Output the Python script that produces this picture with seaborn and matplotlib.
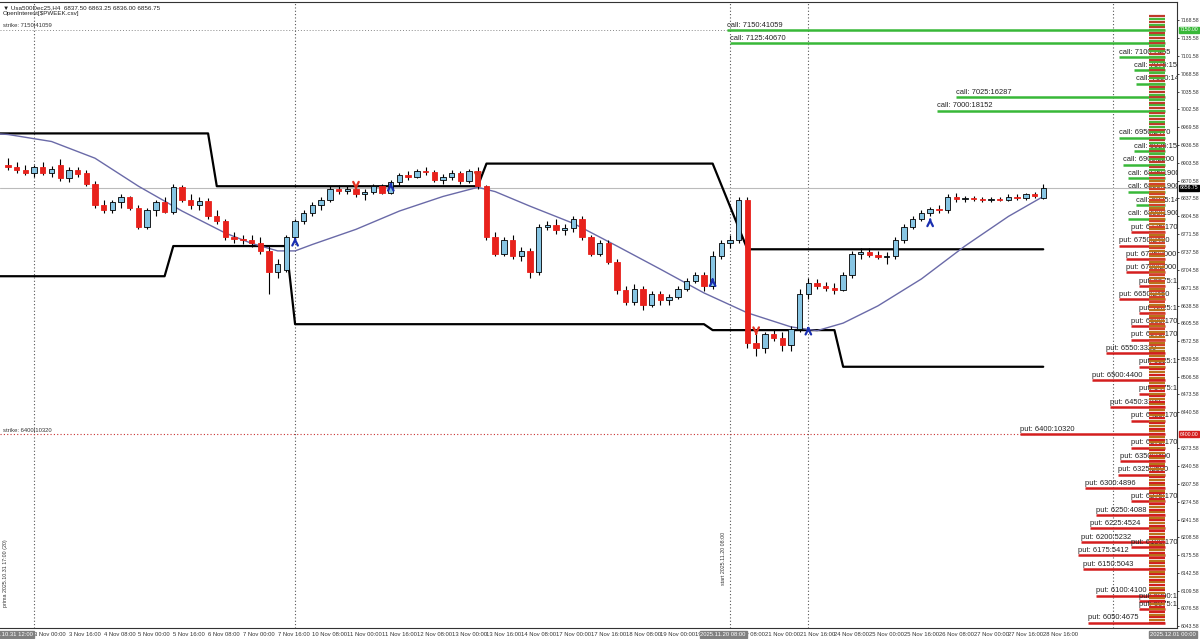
import numpy as np
import pandas as pd
import seaborn as sns
import matplotlib.pyplot as plt

# H4 candles, Usa500Dec25 (bar 0 = 31 Oct 12:00)
opens = [6900, 6895, 6890, 6885, 6895, 6884, 6900, 6875, 6890, 6885,
         6865, 6825, 6815, 6830, 6840, 6820, 6785, 6815, 6830, 6812,
         6858, 6835, 6825, 6832, 6805, 6795, 6765, 6762, 6760, 6755,
         6740, 6700, 6705, 6765, 6795, 6810, 6825, 6835, 6855, 6852,
         6855, 6845, 6850, 6860, 6848, 6868, 6880, 6878, 6888, 6886,
         6872, 6878, 6884, 6870, 6888, 6860, 6765, 6735, 6760, 6730,
         6740, 6700, 6785, 6788, 6778, 6782, 6800, 6765, 6735, 6755,
         6720, 6668, 6645, 6670, 6640, 6660, 6648, 6655, 6670, 6685,
         6695, 6675, 6730, 6755, 6760, 6835, 6570, 6560, 6585, 6578,
         6565, 6595, 6660, 6680, 6675, 6672, 6668, 6695, 6735, 6738,
         6732, 6728, 6730, 6760, 6785, 6800, 6810, 6818, 6815, 6840,
         6836, 6838, 6836, 6835, 6836, 6835, 6840, 6838, 6845, 6837.5]
highs = [6912, 6905, 6900, 6900, 6905, 6898, 6910, 6895, 6895, 6890,
         6870, 6835, 6835, 6845, 6842, 6825, 6820, 6835, 6840, 6865,
         6862, 6845, 6840, 6838, 6815, 6800, 6775, 6770, 6770, 6765,
         6750, 6725, 6770, 6800, 6815, 6830, 6840, 6860, 6862, 6860,
         6860, 6855, 6865, 6865, 6872, 6885, 6888, 6892, 6895, 6890,
         6882, 6890, 6888, 6892, 6895, 6862, 6775, 6765, 6770, 6748,
         6745, 6790, 6795, 6800, 6790, 6805, 6805, 6770, 6760, 6760,
         6725, 6675, 6678, 6675, 6665, 6665, 6660, 6675, 6690, 6700,
         6700, 6740, 6760, 6770, 6840, 6840, 6585, 6590, 6595, 6590,
         6600, 6670, 6690, 6688, 6682, 6680, 6700, 6740, 6745, 6745,
         6740, 6738, 6765, 6790, 6805, 6815, 6822, 6825, 6845, 6848,
         6842, 6842, 6840, 6840, 6840, 6845, 6845, 6848, 6850, 6863.25]
lows = [6890, 6885, 6880, 6878, 6880, 6878, 6870, 6868, 6878, 6860,
        6820, 6810, 6810, 6820, 6815, 6780, 6780, 6805, 6810, 6808,
        6830, 6818, 6815, 6800, 6790, 6760, 6755, 6752, 6748, 6735,
        6660, 6690, 6700, 6760, 6790, 6805, 6815, 6830, 6845, 6845,
        6840, 6835, 6845, 6845, 6845, 6862, 6872, 6875, 6880, 6868,
        6865, 6872, 6865, 6866, 6855, 6760, 6730, 6730, 6725, 6722,
        6690, 6695, 6778, 6772, 6770, 6775, 6760, 6730, 6730, 6715,
        6660, 6640, 6640, 6630, 6635, 6640, 6640, 6650, 6665, 6680,
        6665, 6670, 6725, 6745, 6755, 6560, 6545, 6550, 6572, 6555,
        6555, 6590, 6650, 6670, 6665, 6660, 6665, 6690, 6725, 6728,
        6725, 6715, 6725, 6755, 6780, 6795, 6805, 6810, 6810, 6830,
        6830, 6832, 6830, 6830, 6832, 6832, 6835, 6835, 6838, 6836]
closes = [6895, 6890, 6885, 6895, 6884, 6892, 6875, 6890, 6882, 6865,
          6825, 6815, 6830, 6840, 6820, 6785, 6815, 6830, 6812, 6858,
          6835, 6825, 6832, 6805, 6795, 6765, 6762, 6760, 6755, 6740,
          6700, 6715, 6765, 6795, 6810, 6825, 6835, 6855, 6852, 6855,
          6845, 6850, 6860, 6848, 6868, 6880, 6878, 6888, 6886, 6872,
          6878, 6884, 6870, 6888, 6860, 6765, 6735, 6760, 6730, 6740,
          6700, 6785, 6788, 6778, 6782, 6800, 6765, 6735, 6755, 6720,
          6668, 6645, 6670, 6640, 6660, 6648, 6655, 6670, 6685, 6695,
          6675, 6730, 6755, 6760, 6835, 6570, 6560, 6585, 6578, 6565,
          6595, 6660, 6680, 6675, 6672, 6668, 6695, 6735, 6738, 6732,
          6728, 6730, 6760, 6785, 6800, 6810, 6818, 6815, 6840, 6836,
          6838, 6836, 6835, 6836, 6835, 6840, 6838, 6845, 6842, 6856.75]

# moving average
ma_anchor_bars = [0, 5, 10, 15, 20, 25, 28, 31, 33, 35, 40, 45, 50, 54, 56,
                  60, 65, 70, 75, 80, 85, 90, 93, 96, 100, 105, 110, 115, 119]
ma_anchor_vals = [6956, 6943, 6912, 6860, 6814, 6773, 6754, 6740, 6740, 6752,
                  6780, 6814, 6841, 6858, 6850, 6823, 6791, 6749, 6706, 6662,
                  6625, 6599, 6592, 6606, 6638, 6688, 6749, 6804, 6841]

# channel (black step lines): first bar, last bar, level
upper_first = [-1, 24, 55, 85]
upper_last = [23, 54, 81, 119]
upper_vals = [6958, 6860, 6902, 6743]
lower_first = [-1, 19, 33, 81, 96]
lower_last = [18, 32, 80, 95, 119]
lower_vals = [6693, 6749, 6604, 6593, 6525]

# signal arrows
up_arrow_bars = [33, 44, 81, 92, 106]
up_arrow_px = [6770, 6872, 6695, 6605, 6806]
down_arrow_bars = [40, 54, 86]
down_arrow_px = [6862, 6880, 6592]

# time axis labels, every 4 bars from bar 3
time_labels = ["3 Nov 00:00", "3 Nov 16:00", "4 Nov 08:00", "5 Nov 00:00", "5 Nov 16:00",
               "6 Nov 08:00", "7 Nov 00:00", "7 Nov 16:00", "10 Nov 08:00", "11 Nov 00:00",
               "11 Nov 16:00", "12 Nov 08:00", "13 Nov 00:00", "13 Nov 16:00", "14 Nov 08:00",
               "17 Nov 00:00", "17 Nov 16:00", "18 Nov 08:00", "19 Nov 00:00", "19 Nov 16:00",
               "20 Nov 08:00", "21 Nov 00:00", "21 Nov 16:00", "24 Nov 08:00", "25 Nov 00:00",
               "25 Nov 16:00", "26 Nov 08:00", "27 Nov 00:00", "27 Nov 16:00", "28 Nov 16:00"]

price_ticks = [6043.58, 6076.58, 6109.58, 6142.58, 6175.58, 6208.58, 6241.58, 6274.58,
               6307.58, 6340.58, 6373.58, 6440.58, 6473.58, 6506.58, 6539.58, 6572.58,
               6605.58, 6638.58, 6671.58, 6704.58, 6737.58, 6771.58, 6804.58, 6837.58,
               6870.58, 6903.58, 6936.58, 6969.58, 7002.58, 7035.58, 7068.58, 7101.58,
               7135.58, 7168.58]

# open interest, labelled strikes
call_strikes = [7150, 7125, 7100, 7075, 7050, 7025, 7000, 6950, 6925, 6900, 6875, 6850, 6825, 6800]
call_oi = [41059, 40670, 2465, 1500, 1400, 16287, 18152, 2470, 1500, 2200, 1900, 1900, 1400, 1900]
put_strikes = [6775, 6750, 6725, 6700, 6675, 6650, 6625, 6600, 6575, 6550, 6525, 6500, 6475,
               6450, 6425, 6400, 6375, 6350, 6325, 6300, 6275, 6250, 6225, 6200, 6190, 6175,
               6150, 6100, 6090, 6075, 6050]
put_oi = [1700, 2480, 2000, 2000, 1200, 2450, 1200, 1700, 1700, 3320, 1200, 4400, 1200,
          3100, 1700, 10320, 1700, 2400, 2500, 4896, 1700, 4088, 4524, 5232, 1700, 5412,
          5043, 4100, 1200, 1200, 4675]

sns.set_style("white")
plt.rcParams["font.family"] = ["Liberation Sans", "DejaVu Sans"]

fig = plt.figure(figsize=(12, 6.39), dpi=100)
ax = fig.add_axes([0.0, 0.017, 0.981, 0.98])

n = len(opens)
bars = np.arange(n)
xmin, xmax = -0.92, 134.4
ymin, ymax = 6040.0, 7202.0
px_per_bar = 1177 / (xmax - xmin)

# vertical dotted separators
for vb in [3, 33, 83, 92, 127]:
    ax.axvline(vb, color="#555555", lw=0.8, ls=(0, (1, 2)), zorder=1)

# strike markers from the left
ax.plot([xmin, 83], [7150, 7150], color="#888888", lw=0.7, ls=(0, (1, 2)), zorder=1)
ax.plot([xmin, 118], [6400, 6400], color="#c83232", lw=0.8, ls=(0, (1, 2)), zorder=1)
ax.text(xmin + 0.3, 7150 + 3, "strike: 7150|41059", fontsize=4.2, color="#333333", va="bottom")
ax.text(xmin + 0.3, 6400 + 3, "strike: 6400|10320", fontsize=4.2, color="#333333", va="bottom")

# bid line
ax.axhline(closes[-1], color="#bbbbbb", lw=0.8, zorder=1)

# channel step lines
up_x, up_y, lo_x, lo_y = [], [], [], []
for a, b, v in zip(upper_first, upper_last, upper_vals):
    up_x += [a, b]
    up_y += [v, v]
for a, b, v in zip(lower_first, lower_last, lower_vals):
    lo_x += [a, b]
    lo_y += [v, v]
ax.plot(up_x, up_y, color="black", lw=1.6, zorder=2)
ax.plot(lo_x, lo_y, color="black", lw=1.6, zorder=2)

# moving average
ma_df = pd.DataFrame({"bar": ma_anchor_bars, "ma": ma_anchor_vals})
sns.lineplot(data=ma_df, x="bar", y="ma", ax=ax, color="#6a6aa8", lw=1.0, zorder=3)
ax.plot([xmin, 0], [ma_anchor_vals[0] + 1, ma_anchor_vals[0]], color="#6a6aa8", lw=1.0, zorder=3)

# candles
body_w = 0.62
for i in bars:
    o, h, l, c = opens[i], highs[i], lows[i], closes[i]
    ax.vlines(i, l, h, color="black", lw=0.8, zorder=4)
    bull = c >= o
    color = "#87c5e3" if bull else "#e8221c"
    bot = min(o, c)
    ht = max(abs(c - o), 0.8)
    ax.bar(i, ht, bottom=bot, width=body_w, color=color,
           edgecolor="black" if bull else color, lw=0.6, zorder=5)

# arrows
for b, p in zip(up_arrow_bars, up_arrow_px):
    ax.annotate("", xy=(b, p), xytext=(b, p - 14),
                arrowprops=dict(arrowstyle="->", color="#1a2fb0", lw=1.6), zorder=6)
for b, p in zip(down_arrow_bars, down_arrow_px):
    ax.annotate("", xy=(b, p - 14), xytext=(b, p),
                arrowprops=dict(arrowstyle="->", color="#e03020", lw=1.6), zorder=6)

# open interest lines
right_end = 133.0


def oi_len(v):
    return (v ** 0.8) / 11.2 / px_per_bar


for s, v in zip(call_strikes, call_oi):
    x0 = right_end - oi_len(v)
    ax.plot([x0, right_end], [s, s], color="#38b838", lw=1.8, zorder=6, solid_capstyle="butt")
    ax.text(x0, s + 2.5, f"call: {s}:{v}", fontsize=5.4, color="#222222", va="bottom",
            zorder=6, clip_on=True)
for s, v in zip(put_strikes, put_oi):
    x0 = right_end - oi_len(v)
    ax.plot([x0, right_end], [s, s], color="#d41e1e", lw=1.8, zorder=6, solid_capstyle="butt")
    ax.text(x0, s + 2.5, f"put: {s}:{v}", fontsize=5.4, color="#222222", va="bottom",
            zorder=6, clip_on=True)

# dense per-strike column
for s in np.arange(6050, 7180, 5):
    if s >= 6880:
        col = "#47b83a" if s % 10 == 0 else "#c0392b"
    elif s >= 6560:
        col = "#b8741a" if s % 10 == 0 else "#d4402a"
    else:
        col = "#d21f1f" if s % 10 == 0 else "#b8741a"
    ax.plot([131.2, 133.0], [s, s], color=col, lw=1.6, zorder=7, solid_capstyle="butt")

# header texts
ax.text(xmin + 0.3, ymax - 6, "\u25bc Usa500Dec25,H4  6837.50 6863.25 6836.00 6856.75",
        fontsize=4.5, color="#222222", va="top")
ax.text(xmin + 0.3, ymax - 17, "OpenInterest[$PWEEK.csv]", fontsize=4.5, color="#222222", va="top")

# vertical notes
ax.text(-0.3, 6080, "prima 2025.10.31 17:00 (20)", rotation=90, fontsize=3.8,
        color="#333333", va="bottom", ha="center")
ax.text(82.2, 6120, "start 2025.11.20 08:00", rotation=90, fontsize=3.8,
        color="#333333", va="bottom", ha="center")

ax.set_xlim(xmin, xmax)
ax.set_ylim(ymin, ymax)

ax.yaxis.tick_right()
ax.set_yticks(price_ticks)
ax.set_yticklabels([f"{t:.2f}" for t in price_ticks], fontsize=3.7, color="#333333")
ax.tick_params(axis="y", length=1.5, pad=1, width=0.6)

tick_bars = [3 + 4 * k for k in range(len(time_labels))]
ax.set_xticks(tick_bars)
ax.set_xticklabels(time_labels, fontsize=4.2, color="#333333", ha="left")
ax.tick_params(axis="x", length=2, pad=1, width=0.6)
ax.set_xlabel("")
ax.set_ylabel("")

for side in ["top", "right", "bottom"]:
    ax.spines[side].set_color("#333333")
    ax.spines[side].set_linewidth(0.8)
ax.spines["left"].set_visible(False)

# highlighted right-axis labels
for p, bg in [(7150.0, "#38b838"), (closes[-1], "black"), (6400.0, "#d41e1e")]:
    ax.text(1.002, p, f"{p:.2f}", transform=ax.get_yaxis_transform(), fontsize=3.7,
            color="white", va="center", ha="left",
            bbox=dict(boxstyle="square,pad=0.15", fc=bg, ec=bg))

# highlighted time labels
for b, txt in [(-2.4, "2025.10.31 12:00"), (79.6, "2025.11.20 08:00"), (131.3, "2025.12.01 00:00")]:
    ax.text(b, -0.006, txt, transform=ax.get_xaxis_transform(), fontsize=4.2,
            color="white", va="top", ha="left", zorder=10,
            bbox=dict(boxstyle="square,pad=0.15", fc="#808080", ec="#808080"))

plt.savefig("out.png", dpi=100)
